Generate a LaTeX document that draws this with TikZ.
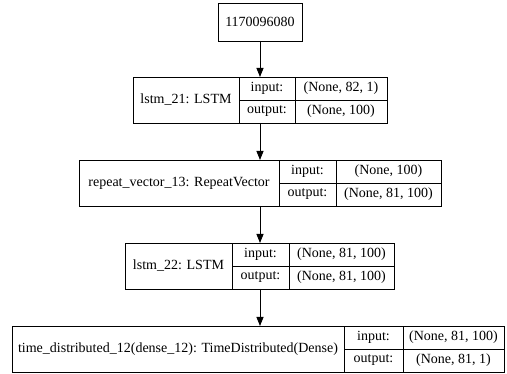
\documentclass[tikz,border=0pt]{standalone}
\usepackage{fontspec}
\setmainfont{Liberation Serif}
\usepackage{tikz}
\usetikzlibrary{arrows.meta,positioning,fit}

\begin{document}
\begin{tikzpicture}[
    x=1pt, y=-1pt,
    every node/.style={font=\rmfamily\fontsize{14}{16}\selectfont},
    cell/.style={draw, line width=0.8pt, inner sep=0pt, outer sep=0pt, minimum height=23pt, anchor=north west},
    namecell/.style={draw, line width=0.8pt, inner sep=0pt, outer sep=0pt, minimum height=46pt, anchor=north west},
    layer/.style={inner sep=0pt, outer sep=0pt, fit=#1},
    arrow/.style={-{Triangle[length=9pt,width=7pt]}, line width=0.8pt}
]
\useasboundingbox (0,0) rectangle (507,374);

\node[draw, line width=0.8pt, outer sep=0pt, minimum width=84pt, minimum height=38pt, inner sep=0pt] (inp) at (260,22) {1170096080};

% lstm_21
\node[namecell, minimum width=106pt] (n1) at (133,77) {lstm\_21: LSTM};
\node[cell, minimum width=56pt] (i1) at (n1.north east) {input:};
\node[cell, minimum width=56pt, below=0pt of i1] (o1) {output:};
\node[cell, minimum width=92pt, right=0pt of i1] (iv1) {(None, 82, 1)};
\node[cell, minimum width=92pt, right=0pt of o1] (ov1) {(None, 100)};
\node[layer={(n1)(iv1)(ov1)}] (lay1) {};

% repeat_vector_13
\node[namecell, minimum width=200pt] (n2) at (79,160) {repeat\_vector\_13: RepeatVector};
\node[cell, minimum width=57pt] (i2) at (n2.north east) {input:};
\node[cell, minimum width=57pt, below=0pt of i2] (o2) {output:};
\node[cell, minimum width=105pt, right=0pt of i2] (iv2) {(None, 100)};
\node[cell, minimum width=105pt, right=0pt of o2] (ov2) {(None, 81, 100)};
\node[layer={(n2)(iv2)(ov2)}] (lay2) {};

% lstm_22
\node[namecell, minimum width=107pt] (n3) at (125,243) {lstm\_22: LSTM};
\node[cell, minimum width=57pt] (i3) at (n3.north east) {input:};
\node[cell, minimum width=57pt, below=0pt of i3] (o3) {output:};
\node[cell, minimum width=105pt, right=0pt of i3] (iv3) {(None, 81, 100)};
\node[cell, minimum width=105pt, right=0pt of o3] (ov3) {(None, 81, 100)};
\node[layer={(n3)(iv3)(ov3)}] (lay3) {};

% time_distributed_12
\node[namecell, minimum width=332pt] (n4) at (12,326) {time\_distributed\_12(dense\_12): TimeDistributed(Dense)};
\node[cell, minimum width=59pt] (i4) at (n4.north east) {input:};
\node[cell, minimum width=59pt, below=0pt of i4] (o4) {output:};
\node[cell, minimum width=101pt, right=0pt of i4] (iv4) {(None, 81, 100)};
\node[cell, minimum width=101pt, right=0pt of o4] (ov4) {(None, 81, 1)};
\node[layer={(n4)(iv4)(ov4)}] (lay4) {};

\draw[arrow] (inp.south) -- (inp.south |- lay1.north);
\draw[arrow] (inp.south |- lay1.south) -- (inp.south |- lay2.north);
\draw[arrow] (inp.south |- lay2.south) -- (inp.south |- lay3.north);
\draw[arrow] (inp.south |- lay3.south) -- (inp.south |- lay4.north);
\end{tikzpicture}
\end{document}
